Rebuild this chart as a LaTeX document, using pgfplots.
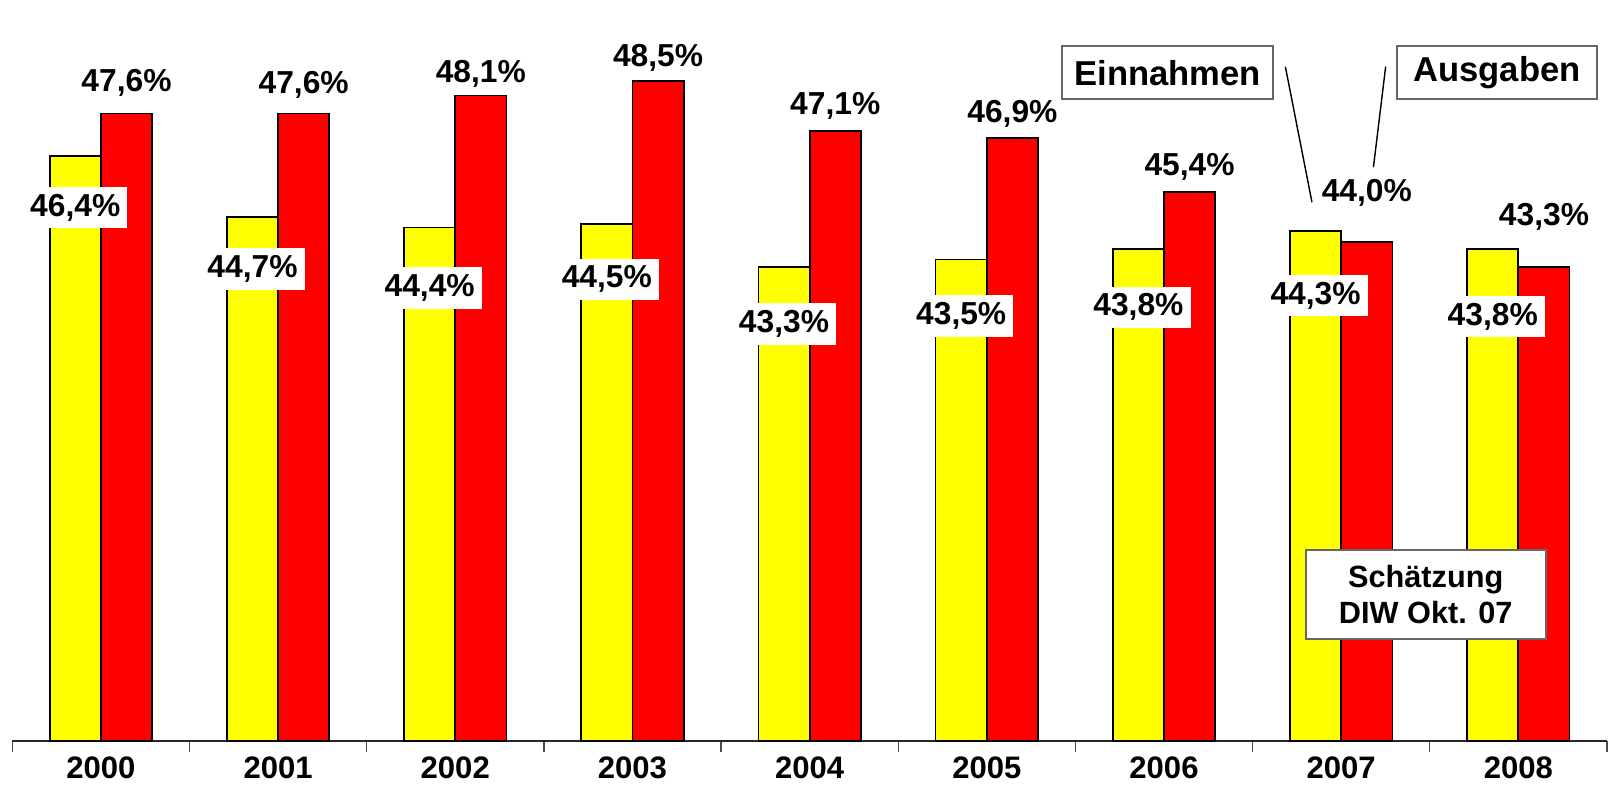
\documentclass[border=0pt]{standalone}
\usepackage{pgfplots}
\pgfplotsset{compat=1.18}
\usepackage{pgfplotstable}
\usepackage{fontspec}
\setmainfont{Liberation Sans}

\definecolor{einY}{HTML}{FFFF00}
\definecolor{ausR}{HTML}{FF0000}

% year, Einnahmen, Ausgaben, label offsets (in px of the reference)
\pgfplotstableread{
x  ein   aus   offE  offA
0  46.4  47.6  -50   30
1  44.7  47.6  -51   28
2  44.4  48.1  -59   21
3  44.5  48.5  -54   23
4  43.3  47.1  -56   25
5  43.5  46.9  -55   24
6  43.8  45.4  -57   24
7  44.3  44.0  -63   48
8  43.8  43.3  -66   49
}\quoten

\def\px{0.2903pt}

\begin{document}
\begin{tikzpicture}
\begin{axis}[
    scale only axis,
    width=15.878cm, height=7.378cm,
    xmin=-0.5, xmax=8.5,
    ymin=30, ymax=50.78,
    axis x line*=bottom,
    axis y line=none,
    axis line style={black!85, line width=0.6pt},
    xtick={0,...,8},
    xticklabels={2000,2001,2002,2003,2004,2005,2006,2007,2008},
    xticklabel style={font=\bfseries\fontsize{8.8}{10}\selectfont, yshift=-1pt},
    major tick length=0pt,
    minor xtick={-0.5,0.5,...,8.5},
    minor tick length=3pt,
    minor tick style={black!70, line width=0.4pt},
    tick align=outside,
    ytick=\empty,
    ybar=0pt,
    bar width=0.289,
    clip=false,
    /pgf/number format/assume math mode=true,
    nodes near coords={\pgfmathprintnumber[fixed,fixed zerofill,precision=1,use comma]{\pgfplotspointmeta}\%},
    nodes near coords style={font=\bfseries\fontsize{9}{10}\selectfont, anchor=center},
]
\addplot[draw=black, line width=0.5pt, fill=einY,
    visualization depends on={\thisrow{offE} \as \myoff},
    nodes near coords style={fill=white, inner sep=2pt, yshift=\myoff*\px}]
    table[x=x, y=ein] {\quoten};
\addplot[draw=black, line width=0.5pt, fill=ausR,
    visualization depends on={\thisrow{offA} \as \myoff},
    nodes near coords style={inner sep=1pt, yshift=\myoff*\px}]
    table[x=x, y=aus] {\quoten};

% legend boxes with leader lines
\node[draw=black!60, fill=white, line width=0.5pt, minimum width=2.10cm, minimum height=0.53cm,
      inner sep=0pt, font=\bfseries\fontsize{9.8}{11}\selectfont]
      at (axis cs:6.02,48.74) {Einnahmen};
\node[draw=black!60, fill=white, line width=0.5pt, minimum width=1.99cm, minimum height=0.53cm,
      inner sep=0pt, font=\bfseries\fontsize{9.8}{11}\selectfont]
      at (axis cs:7.879,48.74) {Ausgaben};
\draw[black, line width=0.4pt] (axis cs:6.685,48.91) -- (axis cs:6.835,45.11);
\draw[black, line width=0.4pt] (axis cs:7.251,48.91) -- (axis cs:7.182,46.09);

\node[draw=black!60, fill=white, line width=0.5pt, minimum width=2.39cm, minimum height=0.88cm,
      inner sep=0pt, align=center, font=\bfseries\fontsize{8.7}{10.2}\selectfont]
      at (axis cs:7.477,34.11) {Schätzung\\DIW Okt. 07};

% page extent
\path (rel axis cs:0,0) ++(-12*\px,-65*\px) coordinate (ll);
\path (rel axis cs:1,1) coordinate (ur);
\useasboundingbox (ll) rectangle (ur);
\end{axis}
\end{tikzpicture}
\end{document}
